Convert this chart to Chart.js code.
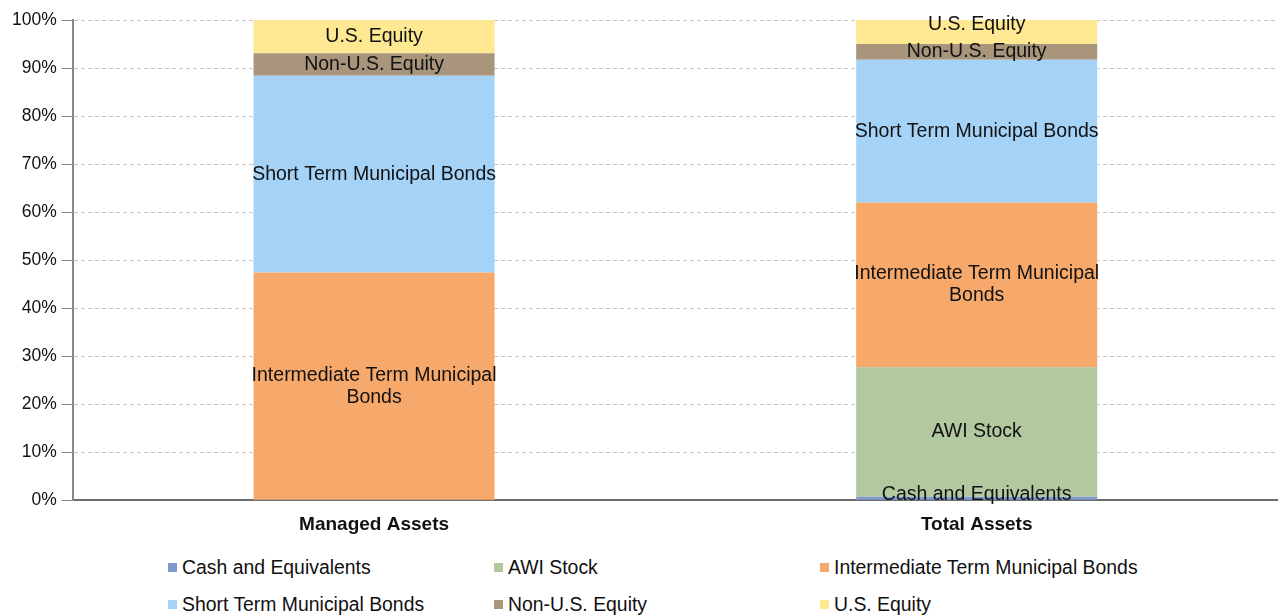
<!DOCTYPE html>
<html>
<head>
<meta charset="utf-8">
<script src="https://cdn.jsdelivr.net/npm/chart.js@4"></script>
<style>
  html, body { margin: 0; padding: 0; background: #fff; }
  body { width: 1278px; height: 615px; overflow: hidden; font-family: "Liberation Sans", Arial, sans-serif; }
  #wrap { position: relative; width: 1278px; height: 558px; }
  #legend { display: grid; grid-template-columns: 326px 326px 326px; margin-left: 168px; row-gap: 17px; margin-top: -1px; }
  .item { display: flex; align-items: center; font-size: 19.4px; color: #111; height: 20px; }
  .sw { width: 9px; height: 9px; margin-right: 5px; }
</style>
</head>
<body>
<div id="wrap"><canvas id="myChart"></canvas></div>
<div id="legend"></div>
<script>
const categories = ['Managed Assets', 'Total Assets'];
const seriesNames = ['Cash and Equivalents', 'AWI Stock', 'Intermediate Term Municipal Bonds',
  'Short Term Municipal Bonds', 'Non-U.S. Equity', 'U.S. Equity'];
const cash = [0, 0.7];
const awiStock = [0, 27.0];
const intermediate = [47.4, 34.3];
const shortTerm = [41.0, 29.7];
const nonUS = [4.7, 3.3];
const usEquity = [6.9, 5.0];
const colors = ['#7f9bcb', '#b2c89f', '#f6a96b', '#a4d3f7', '#a8957b', '#fee891'];
const yTicks = [0, 10, 20, 30, 40, 50, 60, 70, 80, 90, 100];

const values = [cash, awiStock, intermediate, shortTerm, nonUS, usEquity];
const FONT = '"Liberation Sans", Arial, sans-serif';

const data = {
  labels: categories,
  datasets: seriesNames.map((name, i) => ({
    label: name,
    data: values[i],
    backgroundColor: colors[i],
    borderWidth: 0,
    barPercentage: 0.4,
    categoryPercentage: 1.0
  }))
};

// draws each segment's name inside it, like Excel's data labels
const segmentLabels = {
  id: 'segmentLabels',
  afterDatasetsDraw(chart) {
    const ctx = chart.ctx;
    const area = chart.chartArea;
    ctx.save();
    ctx.font = '19.5px ' + FONT;
    ctx.fillStyle = '#111';
    ctx.textAlign = 'center';
    ctx.textBaseline = 'middle';
    const lineH = 22;
    categories.forEach((c, ci) => {
      let floor = area.bottom - 6; // lowest allowed centre
      chart.data.datasets.forEach((ds, di) => {
        if (!ds.data[ci]) return;
        const bar = chart.getDatasetMeta(di).data[ci];
        const lines = ds.label === 'Intermediate Term Municipal Bonds'
          ? ['Intermediate Term Municipal', 'Bonds'] : [ds.label];
        const half = lines.length * lineH / 2;
        let cy = (bar.y + bar.base) / 2;
        if (cy > floor) cy = floor;
        lines.forEach((t, li) => {
          ctx.fillText(t, bar.x, cy - half + lineH / 2 + li * lineH);
        });
        floor = cy - half - 16;
      });
    });
    ctx.restore();
  }
};

const config = {
  type: 'bar',
  data: data,
  options: {
    responsive: true,
    maintainAspectRatio: false,
    animation: false,
    layout: { padding: { top: 20, right: 0, left: 7, bottom: 9 } },
    plugins: {
      legend: { display: false },
      tooltip: { enabled: false }
    },
    scales: {
      x: {
        stacked: true,
        grid: { display: false, drawTicks: false },
        border: { color: '#6e6e6e', width: 2 },
        ticks: {
          color: '#111',
          padding: 13,
          font: { family: FONT, size: 19, weight: 'bold' }
        }
      },
      y: {
        stacked: true,
        min: 0,
        max: 100,
        afterBuildTicks: (axis) => { axis.ticks = yTicks.map(v => ({ value: v })); },
        grid: {
          color: '#c4c4c4',
          tickColor: '#888',
          tickLength: 11,
          tickBorderDash: []
        },
        border: { color: '#888', width: 2, dash: [4, 3] },
        ticks: {
          color: '#111',
          padding: 5,
          font: { family: FONT, size: 17.5 },
          callback: (v) => v + '%'
        }
      }
    }
  },
  plugins: [segmentLabels]
};

const myChart = new Chart(document.getElementById('myChart'), config);

const legend = document.getElementById('legend');
seriesNames.forEach((name, i) => {
  const el = document.createElement('div');
  el.className = 'item';
  el.innerHTML = '<span class="sw" style="background:' + colors[i] + '"></span>' + name;
  legend.appendChild(el);
});
</script>
</body>
</html>
